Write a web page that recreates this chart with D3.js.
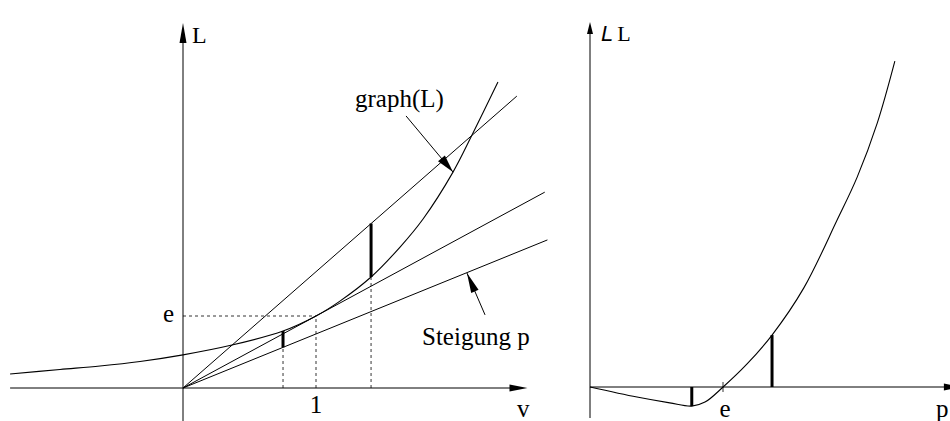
<!DOCTYPE html>
<html>
<head>
  <meta charset="utf-8">
  <title>Legendre</title>
  <script src="https://cdn.jsdelivr.net/npm/d3@7/dist/d3.min.js"></script>
  <style>
    body { margin: 0; background: #fff; }
    text { font-family: "Liberation Serif", "DejaVu Serif", serif; fill: #000; }
  </style>
</head>
<body>
  <script>
    const W = 950, H = 421;
    const E = 2.718;

    // left panel: graph(L) over v
    const curveV = [-1.30, -0.925, -0.624, -0.323, 0, 0.368, 0.752, 1.0, 1.18, 1.414, 1.632, 1.805, 2.03, 2.173, 2.368];
    const curveL = [0.53, 0.70, 0.83, 1.00, 1.25, 1.62, 2.15, 2.718, 3.28, 4.19, 5.32, 6.38, 8.15, 9.55, 11.55];
    // lines through the origin: slope and end point
    const slopes = [4.39, 2.718, 2.04];
    const slopeEnds = [2.51, 2.72, 2.74];
    // thick bars: v, bottom, top
    const barsLeft = [[0.752, 1.534, 2.15], [1.414, 4.19, 6.21]];
    // dashed guides: [v0, L0, v1, L1]
    const dashes = [[0.752, 0, 0.752, 1.534], [1, 0, 1, E], [0, E, 1, E], [1.414, 0, 1.414, 4.19]];

    // right panel: Legendre transform over p
    const curveP = [0, 0.96, 1.63, 2.08, 2.35, 2.72, 3.21, 3.72, 4.37, 5.05, 5.46, 5.87, 6.23];
    const curveLL = [0, -0.38, -0.60, -0.72, -0.57, 0, 0.87, 1.96, 3.74, 6.30, 7.92, 9.96, 12.30];
    const barsRight = [[2.08, -0.72], [3.72, 1.96]];

    const svg = d3.select("body").append("svg")
      .attr("width", W)
      .attr("height", H);

    // scales
    const xL = d3.scaleLinear().domain([0, 1]).range([183, 316]);
    const yL = d3.scaleLinear().domain([0, E]).range([388, 316]);
    const xR = d3.scaleLinear().domain([0, E]).range([590, 723]);
    const yR = d3.scaleLinear().domain([0, 1]).range([387, 360.5]);

    function arrowHead(g, tx, ty, fx, fy, len, hw) {
      const dx = tx - fx, dy = ty - fy;
      const d = Math.sqrt(dx * dx + dy * dy);
      const ux = dx / d, uy = dy / d;
      const bx = tx - ux * len, by = ty - uy * len;
      g.append("path")
        .attr("d", "M" + tx + "," + ty +
          "L" + (bx - uy * hw) + "," + (by + ux * hw) +
          "L" + (bx + uy * hw) + "," + (by - ux * hw) + "Z")
        .attr("fill", "#000");
    }

    const line = d3.line().curve(d3.curveCatmullRom.alpha(0.5));

    // ---- left panel ----
    const gl = svg.append("g");

    // axes
    gl.append("line").attr("x1", xL(-1.30)).attr("x2", xL(2.59) - 10)
      .attr("y1", yL(0)).attr("y2", yL(0)).attr("stroke", "#000");
    arrowHead(gl, xL(2.59), yL(0), xL(0), yL(0), 18, 3.5);
    gl.append("line").attr("x1", xL(0)).attr("x2", xL(0))
      .attr("y1", yL(-1.25)).attr("y2", yL(13.78) + 10).attr("stroke", "#000");
    arrowHead(gl, xL(0), yL(13.78), xL(0), yL(0), 20, 3.5);

    // dashed guides
    dashes.forEach(function (d) {
      gl.append("line")
        .attr("x1", xL(d[0])).attr("y1", yL(d[1]))
        .attr("x2", xL(d[2])).attr("y2", yL(d[3]))
        .attr("stroke", "#000").attr("stroke-width", 0.8)
        .attr("stroke-dasharray", "3,3");
    });

    // lines through origin
    slopes.forEach(function (s, i) {
      gl.append("line")
        .attr("x1", xL(0)).attr("y1", yL(0))
        .attr("x2", xL(slopeEnds[i])).attr("y2", yL(s * slopeEnds[i]))
        .attr("stroke", "#000").attr("stroke-width", 1);
    });

    // graph(L)
    gl.append("path")
      .attr("d", line(curveV.map(function (v, i) { return [xL(v), yL(curveL[i])]; })))
      .attr("fill", "none").attr("stroke", "#000").attr("stroke-width", 1.1);

    // thick bars
    barsLeft.forEach(function (b) {
      gl.append("line")
        .attr("x1", xL(b[0])).attr("x2", xL(b[0]))
        .attr("y1", yL(b[1])).attr("y2", yL(b[2]))
        .attr("stroke", "#000").attr("stroke-width", 3);
    });

    // annotation pointers
    gl.append("line").attr("x1", xL(1.677)).attr("y1", yL(10.27))
      .attr("x2", xL(2.03)).attr("y2", yL(8.15)).attr("stroke", "#000");
    arrowHead(gl, xL(2.03), yL(8.15), xL(1.677), yL(10.27), 18, 4.5);
    gl.append("line").attr("x1", xL(2.271)).attr("y1", yL(2.76))
      .attr("x2", xL(2.135)).attr("y2", yL(4.34)).attr("stroke", "#000");
    arrowHead(gl, xL(2.135), yL(4.34), xL(2.271), yL(2.76), 20, 4);

    // labels
    gl.append("text").attr("x", 192).attr("y", 43).attr("font-size", 24).text("L");
    gl.append("text").attr("x", 174).attr("y", 322).attr("font-size", 25)
      .attr("text-anchor", "end").text("e");
    gl.append("text").attr("x", xL(1)).attr("y", 413).attr("font-size", 25)
      .attr("text-anchor", "middle").text("1");
    gl.append("text").attr("x", 517).attr("y", 417).attr("font-size", 25).text("v");
    gl.append("text").attr("x", 355).attr("y", 107).attr("font-size", 25).text("graph(L)");
    gl.append("text").attr("x", 422).attr("y", 345).attr("font-size", 25).text("Steigung p");

    // ---- right panel ----
    const gr = svg.append("g");

    gr.append("line").attr("x1", xR(0)).attr("x2", xR(7.6))
      .attr("y1", yR(0)).attr("y2", yR(0)).attr("stroke", "#000");
    arrowHead(gr, xR(7.6), yR(0), xR(0), yR(0), 18, 3.5);
    gr.append("line").attr("x1", xR(0)).attr("x2", xR(0))
      .attr("y1", yR(-1.17)).attr("y2", yR(13.77) + 8).attr("stroke", "#000");
    arrowHead(gr, xR(0), yR(13.77), xR(0), yR(0), 12, 3);

    // tick at e
    gr.append("line").attr("x1", xR(E)).attr("x2", xR(E))
      .attr("y1", yR(0) - 5).attr("y2", yR(0) + 5).attr("stroke", "#000").attr("stroke-width", 0.8);

    gr.append("path")
      .attr("d", line(curveP.map(function (p, i) { return [xR(p), yR(curveLL[i])]; })))
      .attr("fill", "none").attr("stroke", "#000").attr("stroke-width", 1.1);

    barsRight.forEach(function (b) {
      gr.append("line")
        .attr("x1", xR(b[0])).attr("x2", xR(b[0]))
        .attr("y1", yR(0)).attr("y2", yR(b[1]))
        .attr("stroke", "#000").attr("stroke-width", 3);
    });

    const lab = gr.append("text").attr("x", 601).attr("y", 41).attr("font-size", 22);
    lab.append("tspan").attr("font-family", "Liberation Sans, sans-serif")
      .attr("font-style", "italic").text("L");
    lab.append("tspan").attr("dx", 4).text("L");
    gr.append("text").attr("x", xR(E) + 2).attr("y", 417).attr("font-size", 25)
      .attr("text-anchor", "middle").text("e");
    gr.append("text").attr("x", 936).attr("y", 417).attr("font-size", 25).text("p");
  </script>
</body>
</html>
